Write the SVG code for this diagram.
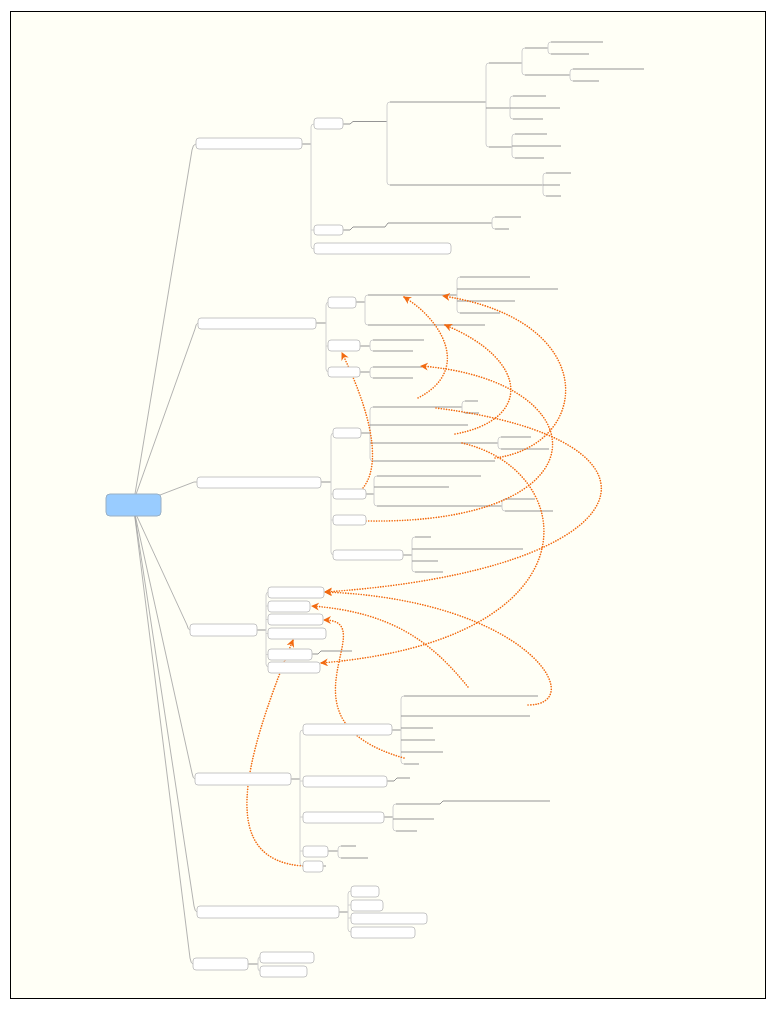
<svg xmlns="http://www.w3.org/2000/svg" width="777" height="1011" viewBox="0 0 777 1011">
<style>
.frame{fill:#fffff6;stroke:#000;stroke-width:1}
.nd{fill:#fff;stroke:#c6c6c6;stroke-width:1}
.rt{fill:#99ccff;stroke:#9ab0c4;stroke-width:1}
.br{fill:none;stroke:#d0d0d0;stroke-width:1}
.ln{fill:none;stroke:#959595;stroke-width:1}
.mn{fill:none;stroke:#a0a0a0;stroke-width:0.8}
.rel{fill:none;stroke:#f26a10;stroke-width:1.6;stroke-dasharray:0.1 2.5;stroke-linecap:round}
</style>
<defs>
<marker id="ah" markerUnits="userSpaceOnUse" markerWidth="10" markerHeight="10" refX="7" refY="4" orient="auto">
<path d="M0,0 L8,4 L0,8 L2.5,4 z" fill="#f26a10"/>
</marker>
</defs>
<rect x="0" y="0" width="777" height="1011" fill="#fff"/>
<rect class="frame" x="10.5" y="11.5" width="755" height="987"/>
<g id="connectors">
<path class="mn" d="M134,500 L192,150 Q193,144 196,144"/>
<path class="mn" d="M134,500 L195,329 Q196,323 198,323"/>
<path class="mn" d="M160,495 L194,482 H197"/>
<path class="mn" d="M134,510 L187,625 Q188,630 190,630"/>
<path class="mn" d="M134,510 L192,773 Q193,779 195,779"/>
<path class="mn" d="M134,510 L194,906 Q195,912 197,912"/>
<path class="mn" d="M134,510 L190,958 Q191,964 193,964"/>
<path class="ln" d="M302,144 H311"/>
<path class="br" d="M314,124 Q311,124 311,127 V246 Q311,249 314,249 M311,230 H314"/>
<path class="ln" d="M343,124 H350 L353,121.5 H387"/>
<path class="br" d="M390,102 Q387,102 387,105 V182 Q387,185 390,185"/>
<path class="ln" d="M390,102 H486 M390,185 H543"/>
<path class="br" d="M489,63 Q486,63 486,66 V144 Q486,147 489,147"/>
<path class="ln" d="M489,63 H522 M486,108 H510 M489,147 H512"/>
<path class="br" d="M525,48 Q522,48 522,51 V72 Q522,75 525,75"/>
<path class="ln" d="M525,48 H548 M525,75 H570"/>
<path class="br" d="M551,42 Q548,42 548,45 V51 Q548,54 551,54"/>
<path class="ln" d="M551,42 H603 M551,54 H589"/>
<path class="br" d="M573,69 Q570,69 570,72 V78 Q570,81 573,81"/>
<path class="ln" d="M573,69 H644 M573,81 H599"/>
<path class="br" d="M513,96 Q510,96 510,99 V116 Q510,119 513,119"/>
<path class="ln" d="M513,96 H546 M510,108 H560 M513,119 H543"/>
<path class="br" d="M515,134 Q512,134 512,137 V155 Q512,158 515,158"/>
<path class="ln" d="M515,134 H547 M512,146 H561 M515,158 H544"/>
<path class="br" d="M546,173 Q543,173 543,176 V193 Q543,196 546,196"/>
<path class="ln" d="M546,173 H571 M543,185 H560 M546,196 H561"/>
<path class="ln" d="M343,230 H350 L353,227 H385 L388,223 H492"/>
<path class="br" d="M495,217 Q492,217 492,220 V226 Q492,229 495,229"/>
<path class="ln" d="M495,217 H521 M495,229 H509"/>
<path class="ln" d="M316,323 H326"/>
<path class="br" d="M329,302 Q326,302 326,305 V369 Q326,372 329,372 M326,346 H328"/>
<path class="ln" d="M356,302 H365"/>
<path class="br" d="M368,295 Q365,295 365,298 V322 Q365,325 368,325"/>
<path class="ln" d="M368,295 H457 M368,325 H485"/>
<path class="br" d="M460,277 Q457,277 457,280 V310 Q457,313 460,313"/>
<path class="ln" d="M460,277 H530 M457,289 H558 M457,301 H515 M460,313 H500"/>
<path class="ln" d="M360,346 H370"/>
<path class="br" d="M373,340 Q370,340 370,343 V348 Q370,351 373,351"/>
<path class="ln" d="M373,340 H424 M373,351 H413"/>
<path class="ln" d="M360,372 H370"/>
<path class="br" d="M373,367 Q370,367 370,370 V375 Q370,378 373,378"/>
<path class="ln" d="M373,367 H422 M373,378 H413"/>
<path class="ln" d="M321,482 H331"/>
<path class="br" d="M334,433 Q331,433 331,436 V552 Q331,555 334,555 M331,494 H333 M331,520 H333"/>
<path class="ln" d="M361,433 H370"/>
<path class="br" d="M373,407 Q370,407 370,410 V458 Q370,461 373,461"/>
<path class="ln" d="M373,407 H462 M370,425 H468 M370,443 H498 M373,461 H495"/>
<path class="br" d="M465,401 Q462,401 462,404 V410 Q462,413 465,413"/>
<path class="ln" d="M465,401 H478 M465,413 H479"/>
<path class="br" d="M501,437 Q498,437 498,440 V446 Q498,449 501,449"/>
<path class="ln" d="M501,437 H531 M501,449 H549"/>
<path class="ln" d="M366,494 H374"/>
<path class="br" d="M377,476 Q374,476 374,479 V503 Q374,506 377,506"/>
<path class="ln" d="M377,476 H481 M374,487 H449 M377,506 H502"/>
<path class="br" d="M505,499 Q502,499 502,502 V508 Q502,511 505,511"/>
<path class="ln" d="M505,499 H535 M505,511 H553"/>
<path class="ln" d="M403,555 H412"/>
<path class="br" d="M415,537 Q412,537 412,540 V569 Q412,572 415,572"/>
<path class="ln" d="M415,537 H431 M412,549 H523 M412,561 H438 M415,572 H443"/>
<path class="ln" d="M257,630 H266"/>
<path class="br" d="M269,592 Q266,592 266,595 V664 Q266,667 269,667 M266,606 H268 M266,619.5 H268 M266,633.5 H268 M266,654.5 H268"/>
<path class="ln" d="M312,654 H318 L321,651 H352"/>
<path class="ln" d="M291,779 H300"/>
<path class="br" d="M303,730 Q300,730 300,733 V863 Q300,866 303,866 M300,781 H303 M300,817 H303 M300,851 H303"/>
<path class="ln" d="M392,730 H401"/>
<path class="br" d="M404,696 Q401,696 401,699 V761 Q401,764 404,764"/>
<path class="ln" d="M404,696 H538 M401,716 H530 M401,728 H433 M401,740 H435 M401,752 H443 M404,764 H419"/>
<path class="ln" d="M387,781 H394 L397,778 H410"/>
<path class="ln" d="M384,817 H393"/>
<path class="br" d="M396,804 Q393,804 393,807 V828 Q393,831 396,831"/>
<path class="ln" d="M396,804 H440 L443,801 H550 M393,819 H434 M396,831 H417"/>
<path class="ln" d="M328,851 H338"/>
<path class="br" d="M341,846 Q338,846 338,849 V855 Q338,858 341,858"/>
<path class="ln" d="M341,846 H356 M341,858 H368"/>
<path class="ln" d="M323,866 H326"/>
<path class="ln" d="M339,912 H348"/>
<path class="br" d="M351,891 Q348,891 348,894 V929 Q348,932 351,932 M348,905 H351 M348,918 H351"/>
<path class="ln" d="M248,964 H258"/>
<path class="br" d="M260,957 Q258,957 258,960 V968 Q258,971 260,971"/>
<path class="rel" marker-end="url(#ah)" d="M418,398 C472,370 442,320 404,297"/>
<path class="rel" marker-end="url(#ah)" d="M455,434 C532,420 530,360 445,325"/>
<path class="rel" marker-end="url(#ah)" d="M495,458 C592,445 602,320 443,296"/>
<path class="rel" marker-end="url(#ah)" d="M366,521 C610,525 600,380 421,366"/>
<path class="rel" marker-end="url(#ah)" d="M363,488 C385,460 365,400 342,353"/>
<path class="rel" marker-end="url(#ah)" d="M436,408 C690,440 650,570 325,592"/>
<path class="rel" marker-end="url(#ah)" d="M462,443 C580,470 600,640 321,663"/>
<path class="rel" marker-end="url(#ah)" d="M468,687 C430,640 390,612 312,606"/>
<path class="rel" marker-end="url(#ah)" d="M528,705 C590,705 530,600 325,592"/>
<path class="rel" marker-end="url(#ah)" d="M404,758 C270,720 385,620 324,620"/>
<path class="rel" marker-end="url(#ah)" d="M303,866 C220,860 240,770 293,640"/>
</g>
<g id="root"><rect class="rt" x="106" y="494" width="55" height="22" rx="4"/></g>
<g id="n1"><rect class="nd" x="196" y="138" width="106" height="11" rx="3"/></g>
<g id="n1a"><rect class="nd" x="314" y="118" width="29" height="11" rx="3"/></g>
<g id="n1b"><rect class="nd" x="314" y="225" width="29" height="10" rx="3"/></g>
<g id="n1c"><rect class="nd" x="314" y="243" width="137" height="11" rx="3"/></g>
<g id="n2"><rect class="nd" x="198" y="318" width="118" height="11" rx="3"/></g>
<g id="n2a"><rect class="nd" x="328" y="297" width="28" height="11" rx="3"/></g>
<g id="n2b"><rect class="nd" x="328" y="340" width="32" height="11" rx="3"/></g>
<g id="n2c"><rect class="nd" x="328" y="367" width="32" height="10" rx="3"/></g>
<g id="n3"><rect class="nd" x="197" y="477" width="124" height="11" rx="3"/></g>
<g id="n3a"><rect class="nd" x="333" y="428" width="28" height="10" rx="3"/></g>
<g id="n3b"><rect class="nd" x="333" y="489" width="33" height="10" rx="3"/></g>
<g id="n3c"><rect class="nd" x="333" y="515" width="33" height="10" rx="3"/></g>
<g id="n3d"><rect class="nd" x="333" y="550" width="70" height="10" rx="3"/></g>
<g id="n4"><rect class="nd" x="190" y="624" width="67" height="12" rx="3"/></g>
<g id="n4a"><rect class="nd" x="268" y="587" width="56" height="11" rx="3"/></g>
<g id="n4b"><rect class="nd" x="268" y="601" width="42" height="11" rx="3"/></g>
<g id="n4c"><rect class="nd" x="268" y="614" width="55" height="11" rx="3"/></g>
<g id="n4d"><rect class="nd" x="268" y="628" width="58" height="11" rx="3"/></g>
<g id="n4e"><rect class="nd" x="268" y="649" width="44" height="11" rx="3"/></g>
<g id="n4f"><rect class="nd" x="268" y="662" width="52" height="11" rx="3"/></g>
<g id="n5"><rect class="nd" x="195" y="773" width="96" height="12" rx="3"/></g>
<g id="n5a"><rect class="nd" x="303" y="724" width="89" height="11" rx="3"/></g>
<g id="n5b"><rect class="nd" x="303" y="776" width="84" height="11" rx="3"/></g>
<g id="n5c"><rect class="nd" x="303" y="812" width="81" height="11" rx="3"/></g>
<g id="n5d"><rect class="nd" x="303" y="846" width="25" height="11" rx="3"/></g>
<g id="n5e"><rect class="nd" x="303" y="861" width="20" height="11" rx="3"/></g>
<g id="n6"><rect class="nd" x="197" y="906" width="142" height="12" rx="3"/></g>
<g id="n6a"><rect class="nd" x="351" y="886" width="28" height="11" rx="3"/></g>
<g id="n6b"><rect class="nd" x="351" y="900" width="32" height="11" rx="3"/></g>
<g id="n6c"><rect class="nd" x="351" y="913" width="76" height="11" rx="3"/></g>
<g id="n6d"><rect class="nd" x="351" y="927" width="64" height="11" rx="3"/></g>
<g id="n7"><rect class="nd" x="193" y="958" width="55" height="12" rx="3"/></g>
<g id="n7a"><rect class="nd" x="260" y="952" width="54" height="11" rx="3"/></g>
<g id="n7b"><rect class="nd" x="260" y="966" width="47" height="11" rx="3"/></g>
</svg>
